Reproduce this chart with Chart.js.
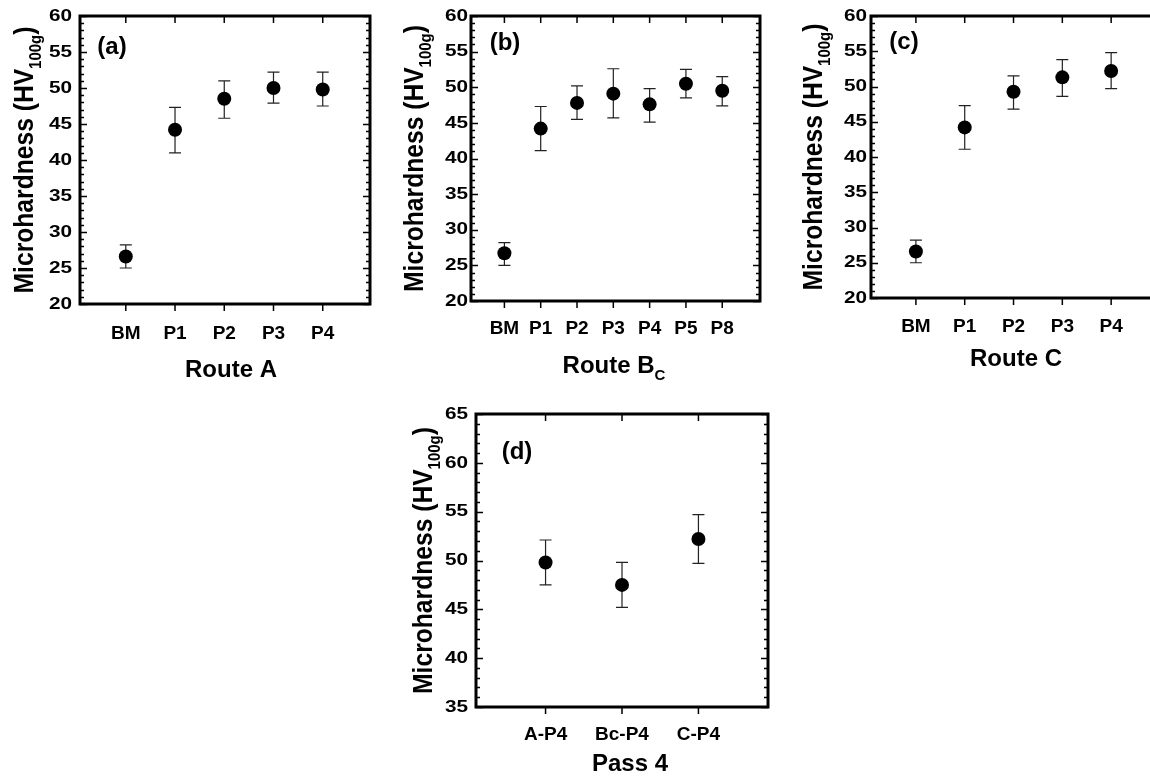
<!DOCTYPE html>
<html>
<head>
<meta charset="utf-8">
<title>Microhardness by route</title>
<script src="https://cdn.jsdelivr.net/npm/chart.js@4.4.1/dist/chart.umd.min.js"></script>
<style>
  body { margin: 0; width: 1150px; height: 783px; overflow: hidden; background: #fff; position: relative; }
  canvas { position: absolute; }
</style>
</head>
<body>
<canvas id="routeA" width="390" height="390" style="left:0;top:0"></canvas>
<canvas id="routeBc" width="380" height="390" style="left:390px;top:0"></canvas>
<canvas id="routeC" width="400" height="390" style="left:770px;top:0"></canvas>
<canvas id="pass4" width="400" height="403" style="left:380px;top:380px"></canvas>
<script>
// Route A
const routeACats = ['BM', 'P1', 'P2', 'P3', 'P4'];
const routeAMean = [26.6, 44.2, 48.5, 50.0, 49.8];
const routeAHigh = [28.2, 47.3, 51.0, 52.2, 52.2];
const routeALow  = [25.0, 41.0, 45.8, 47.9, 47.5];

// Route Bc
const routeBcCats = ['BM', 'P1', 'P2', 'P3', 'P4', 'P5', 'P8'];
const routeBcMean = [26.7, 44.2, 47.8, 49.1, 47.6, 50.5, 49.5];
const routeBcHigh = [28.2, 47.3, 50.2, 52.6, 49.8, 52.5, 51.5];
const routeBcLow  = [25.0, 41.1, 45.5, 45.7, 45.1, 48.5, 47.4];

// Route C
const routeCCats = ['BM', 'P1', 'P2', 'P3', 'P4'];
const routeCMean = [26.6, 44.2, 49.25, 51.3, 52.2];
const routeCHigh = [28.2, 47.3, 51.5, 53.8, 54.8];
const routeCLow  = [25.0, 41.1, 46.8, 48.6, 49.7];

// Pass 4 comparison
const pass4Cats = ['A-P4', 'Bc-P4', 'C-P4'];
const pass4Mean = [49.8, 47.5, 52.2];
const pass4High = [52.1, 49.8, 54.7];
const pass4Low  = [47.5, 45.2, 49.7];

// y axis ranges (min, max, step)
const routeYRange = [20, 60, 5];
const pass4YRange = [35, 65, 5];

const FONT = '"Liberation Sans", Arial, Helvetica, sans-serif';

function drawRich(ctx, parts, cx, baseY, size) {
  const fontFor = p => 'bold ' + (p.sub ? Math.round(size * 0.62) : size) + 'px ' + FONT;
  const widths = parts.map(p => { ctx.font = fontFor(p); return ctx.measureText(p.t).width; });
  let x = cx - widths.reduce((s, w) => s + w, 0) / 2;
  ctx.textAlign = 'left';
  ctx.textBaseline = 'alphabetic';
  parts.forEach((p, i) => {
    ctx.font = fontFor(p);
    ctx.fillText(p.t, x, baseY + (p.sub ? size * 0.3 : 0));
    x += widths[i];
  });
}

const yTitleParts = [{ t: 'Microhardness (HV' }, { t: '100g', sub: true }, { t: ')' }];

const panelDecor = {
  id: 'panelDecor',
  beforeDatasetsDraw(chart, args, o) {
    const ctx = chart.ctx, xs = chart.scales.x, ys = chart.scales.y;
    ctx.save();
    ctx.strokeStyle = '#222';
    ctx.lineWidth = 1.2;
    ctx.beginPath();
    o.low.forEach((lo, i) => {
      const px = xs.getPixelForValue(i);
      const yl = ys.getPixelForValue(lo), yh = ys.getPixelForValue(o.high[i]);
      ctx.moveTo(px, yl); ctx.lineTo(px, yh);
      ctx.moveTo(px - 6, yl); ctx.lineTo(px + 6, yl);
      ctx.moveTo(px - 6, yh); ctx.lineTo(px + 6, yh);
    });
    ctx.stroke();
    ctx.restore();
  },
  afterDraw(chart, args, o) {
    const ctx = chart.ctx, a = chart.chartArea, xs = chart.scales.x, ys = chart.scales.y;
    ctx.save();
    ctx.strokeStyle = '#000';
    ctx.lineWidth = 1.5;
    ctx.beginPath();
    for (let v = ys.min; v <= ys.max; v += 1) {
      const py = Math.round(ys.getPixelForValue(v)) + 0.5;
      const len = v % 5 === 0 ? 7 : 4;
      ctx.moveTo(a.left, py); ctx.lineTo(a.left + len, py);
      ctx.moveTo(a.right, py); ctx.lineTo(a.right - len, py);
    }
    o.cats.forEach((c, i) => {
      const px = xs.getPixelForValue(i);
      ctx.moveTo(px, a.top); ctx.lineTo(px, a.top + 7);
      ctx.moveTo(px, a.bottom); ctx.lineTo(px, a.bottom + 7);
    });
    ctx.stroke();
    ctx.lineWidth = 3;
    ctx.strokeRect(a.left, a.top, a.right - a.left, a.bottom - a.top);

    ctx.fillStyle = '#000';
    // y tick labels, a little wide like the original
    ctx.font = 'bold 17px ' + FONT;
    ctx.textAlign = 'right';
    ctx.textBaseline = 'middle';
    ys.ticks.forEach(t => {
      ctx.save();
      ctx.translate(a.left - o.yPad, ys.getPixelForValue(t.value));
      ctx.scale(1.22, 1);
      ctx.fillText(String(t.value), 0, 0);
      ctx.restore();
    });
    // panel letter
    ctx.font = 'bold 24px ' + FONT;
    ctx.textAlign = 'center';
    ctx.fillText(o.label, o.labelX, o.labelY);
    // x title
    drawRich(ctx, o.xTitle, o.xTitleX, o.xTitleY, 24);
    // y title
    ctx.translate(o.yTitleX, (a.top + a.bottom) / 2);
    ctx.rotate(-Math.PI / 2);
    ctx.scale(0.88, 1);
    drawRich(ctx, yTitleParts, 0, 0, 28);
    ctx.restore();
  }
};

function makePanel(id, cats, mean, low, high, yRange, p) {
  const canvas = document.getElementById(id);
  return new Chart(canvas, {
    type: 'scatter',
    data: {
      datasets: [{
        data: mean.map((v, i) => ({ x: i, y: v })),
        backgroundColor: '#000',
        borderColor: '#000',
        borderWidth: 0,
        pointRadius: 7,
        pointHoverRadius: 7
      }]
    },
    options: {
      responsive: false,
      animation: false,
      layout: { padding: { left: 0, top: p.top, right: canvas.width - p.right, bottom: 0 } },
      plugins: {
        legend: { display: false },
        tooltip: { enabled: false },
        panelDecor: {
          cats: cats, low: low, high: high, yPad: p.yPad,
          label: p.label, labelX: p.labelX, labelY: p.labelY,
          xTitle: p.xTitle, xTitleX: p.xTitleX, xTitleY: p.xTitleY,
          yTitleX: p.yTitleX
        }
      },
      scales: {
        x: {
          type: 'linear',
          min: p.xMin,
          max: p.xMax,
          grid: { display: false, drawTicks: false },
          border: { display: false },
          afterBuildTicks: s => { s.ticks = cats.map((c, i) => ({ value: i })); },
          afterFit: s => { s.height = canvas.height - p.bottom; },
          ticks: {
            autoSkip: false, maxRotation: 0, color: '#000',
            font: { family: FONT, size: 19, weight: 'bold' }, padding: p.xPad,
            callback: v => cats[v]
          }
        },
        y: {
          min: yRange[0],
          max: yRange[1],
          grid: { display: false, drawTicks: false },
          border: { display: false },
          afterFit: s => { s.width = p.left; },
          ticks: { stepSize: yRange[2], display: false }
        }
      }
    },
    plugins: [panelDecor]
  });
}

makePanel('routeA', routeACats, routeAMean, routeALow, routeAHigh, routeYRange, {
  left: 80, right: 370, top: 16, bottom: 304, xMin: -0.93, xMax: 4.96, xPad: 18, yPad: 8,
  label: '(a)', labelX: 112, labelY: 47,
  xTitle: [{ t: 'Route A' }], xTitleX: 231, xTitleY: 377, yTitleX: 33
});

makePanel('routeBc', routeBcCats, routeBcMean, routeBcLow, routeBcHigh, routeYRange, {
  left: 81, right: 370, top: 16, bottom: 301, xMin: -0.92, xMax: 7.04, xPad: 16, yPad: 3,
  label: '(b)', labelX: 115, labelY: 43,
  xTitle: [{ t: 'Route B' }, { t: 'C', sub: true }], xTitleX: 224, xTitleY: 373, yTitleX: 33
});

makePanel('routeC', routeCCats, routeCMean, routeCLow, routeCHigh, routeYRange, {
  left: 101, right: 388, top: 16, bottom: 298, xMin: -0.92, xMax: 4.96, xPad: 17, yPad: 4,
  label: '(c)', labelX: 134, labelY: 42,
  xTitle: [{ t: 'Route C' }], xTitleX: 246, xTitleY: 366, yTitleX: 52
});

makePanel('pass4', pass4Cats, pass4Mean, pass4Low, pass4High, pass4YRange, {
  left: 96, right: 388, top: 34, bottom: 327, xMin: -0.91, xMax: 2.91, xPad: 16, yPad: 8,
  label: '(d)', labelX: 137, labelY: 72,
  xTitle: [{ t: 'Pass 4' }], xTitleX: 250, xTitleY: 391, yTitleX: 52
});
</script>
</body>
</html>
